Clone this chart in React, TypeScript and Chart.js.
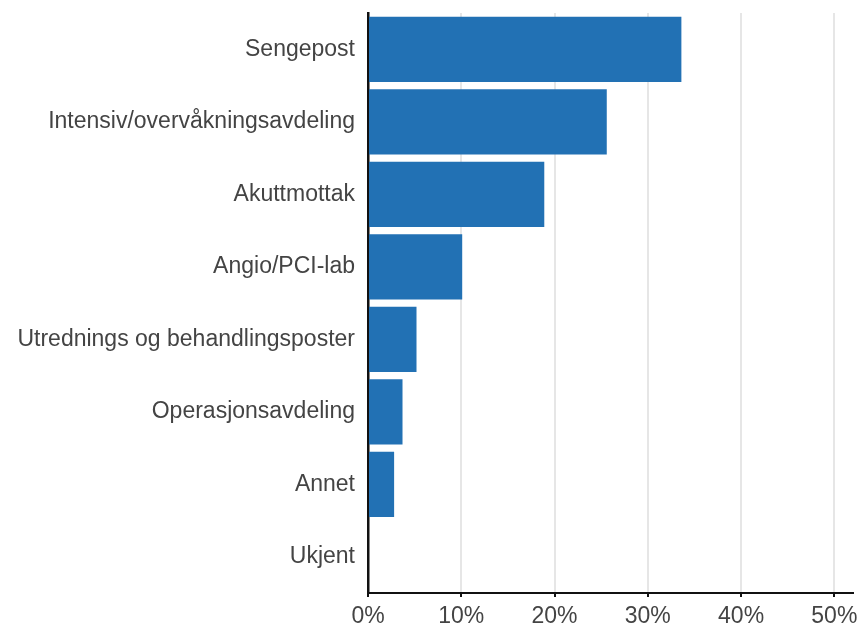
import React, { useEffect, useRef } from "react";
import { Chart, registerables } from "chart.js";

Chart.register(...registerables);

const categories = [
  "Sengepost",
  "Intensiv/overvåkningsavdeling",
  "Akuttmottak",
  "Angio/PCI-lab",
  "Utrednings og behandlingsposter",
  "Operasjonsavdeling",
  "Annet",
  "Ukjent",
];
const percentages = [33.6, 25.6, 18.9, 10.1, 5.2, 3.7, 2.8, 0];
const xMax = 52;
const xStep = 10;

export default function App() {
  const ref = useRef<HTMLCanvasElement | null>(null);
  useEffect(() => {
    document.body.style.margin = "0";
    const canvas = ref.current;
    if (!canvas) return;
    const font = { family: "'Liberation Sans', Arial, sans-serif", size: 23 };
    const chart = new Chart(canvas, {
      type: "bar",
      data: {
        labels: categories,
        datasets: [
          {
            data: percentages,
            backgroundColor: "#2271b4",
            borderWidth: 0,
            barPercentage: 0.9,
            categoryPercentage: 1.0,
          },
        ],
      },
      options: {
        indexAxis: "y",
        animation: false,
        responsive: false,
        devicePixelRatio: 1,
        layout: { padding: { top: 13, right: 5, bottom: 0, left: 0 } },
        plugins: { legend: { display: false }, tooltip: { enabled: false } },
        scales: {
          x: {
            min: 0,
            max: xMax,
            border: { display: true, color: "#111", width: 2 },
            grid: {
              color: (ctx: any) => (ctx.tick && ctx.tick.value === 0 ? "rgba(0,0,0,0)" : "#e6e6e6"),
              lineWidth: 2,
              drawTicks: true,
              tickLength: 4,
              tickColor: "#111",
              tickWidth: 2,
            },
            ticks: {
              stepSize: xStep,
              includeBounds: false,
              font,
              color: "#444",
              padding: 6,
              maxRotation: 0,
              callback: (v: any) => v + "%",
            },
            afterFit: (scale: any) => {
              scale.height = 32;
              scale.paddingLeft = 0;
              scale.paddingRight = 0;
            },
          },
          y: {
            border: { display: true, color: "#111", width: 2.5 },
            grid: { display: false, drawTicks: false },
            ticks: { font, color: "#444", padding: 13 },
            afterFit: (scale: any) => {
              scale.width = 368;
              scale.paddingTop = 0;
              scale.paddingBottom = 0;
            },
          },
        },
      },
    });
    return () => chart.destroy();
  }, []);
  return (
    <div style={{ position: "absolute", left: 0, top: 0, width: 858, height: 625 }}>
      <canvas ref={ref} width={858} height={625} style={{ width: 858, height: 625 }} />
    </div>
  );
}
